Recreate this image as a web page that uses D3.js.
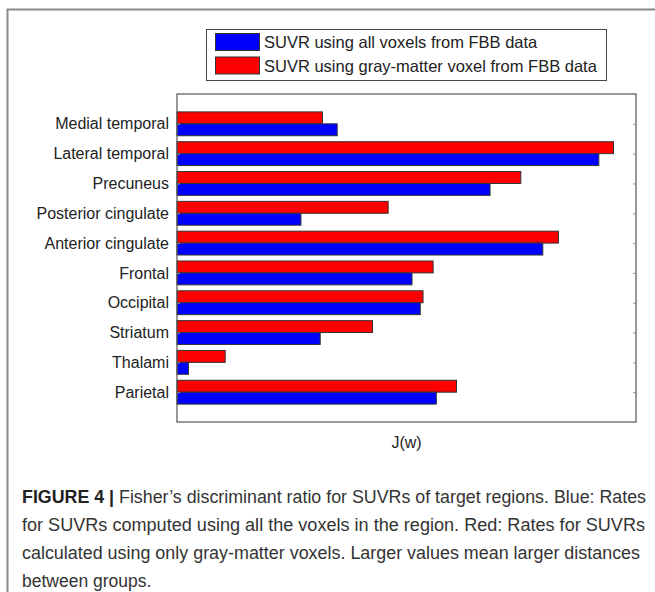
<!DOCTYPE html>
<html>
<head>
<meta charset="utf-8">
<script src="https://cdn.jsdelivr.net/npm/d3@7"></script>
<style>
  html, body { margin: 0; padding: 0; background: #fff; }
  svg { display: block; }
  text { font-family: "Liberation Sans", Arial, Helvetica, sans-serif; }
</style>
</head>
<body>
<svg id="fig" width="655" height="592"></svg>
<script>
// Brain regions, top to bottom
const regions = [
  "Medial temporal", "Lateral temporal", "Precuneus", "Posterior cingulate",
  "Anterior cingulate", "Frontal", "Occipital", "Striatum", "Thalami", "Parietal"
];
// Fisher's discriminant ratio J(w), SUVR from all voxels
const allVoxels = [0.349, 0.919, 0.682, 0.270, 0.797, 0.512, 0.530, 0.312, 0.025, 0.565];
// Fisher's discriminant ratio J(w), SUVR from gray-matter voxels only
const grayMatter = [0.317, 0.951, 0.749, 0.460, 0.831, 0.558, 0.536, 0.426, 0.105, 0.609];
const seriesNames = [
  "SUVR using all voxels from FBB data",
  "SUVR using gray-matter voxel from FBB data"
];
const seriesColors = ["#0000ff", "#ff0000"];
const xLabel = "J(w)";
const captionLines = [
  [["FIGURE 4 |", true], [" Fisher\u2019s discriminant ratio for SUVRs of target regions. Blue: Rates", false]],
  [["for SUVRs computed using all the voxels in the region. Red: Rates for SUVRs", false]],
  [["calculated using only gray-matter voxels. Larger values mean larger distances", false]],
  [["between groups.", false]]
];
// line widths of the justified caption block (last line runs free)
const captionWidths = [624, 623, 618, null];

const svg = d3.select("#fig");

// outer figure frame (continues past the right and bottom edges)
svg.append("rect")
  .attr("x", 7.5).attr("y", 9.5).attr("width", 720).attr("height", 720)
  .attr("fill", "none").attr("stroke", "#8a8a8a").attr("stroke-width", 2);

const plot = { left: 177, right: 636, top: 94, bottom: 422 };

const x = d3.scaleLinear().domain([0, 1]).range([plot.left, plot.right]);
// positions 1..10 inside a 0..11 range
const y = d3.scaleLinear().domain([0, regions.length + 1]).range([plot.top, plot.bottom]);
const step = y(1) - y(0);
const barH = step * 0.8 / 2;

const g = svg.append("g");

// bars: gray-matter (red) above, all-voxel (blue) below
const order = [1, 0]; // series index for each slot (top, bottom)
regions.forEach((r, i) => {
  const c = y(i + 1);
  order.forEach((s, slot) => {
    const v = s === 0 ? allVoxels[i] : grayMatter[i];
    g.append("rect")
      .attr("x", x(0))
      .attr("y", c - barH + slot * barH)
      .attr("width", x(v) - x(0))
      .attr("height", barH)
      .attr("fill", seriesColors[s])
      .attr("stroke", "#333")
      .attr("stroke-width", 1);
  });
});

// axes box
const yAxisL = d3.axisLeft(y).tickValues(d3.range(1, regions.length + 1))
  .tickFormat(d => regions[d - 1]).tickSizeInner(-3).tickSizeOuter(0).tickPadding(8);
const yAxisR = d3.axisRight(y).tickValues(d3.range(1, regions.length + 1))
  .tickFormat("").tickSizeInner(-3).tickSizeOuter(0);

const gl = svg.append("g").attr("transform", `translate(${plot.left},0)`).call(yAxisL);
gl.select(".domain").remove();
gl.selectAll(".tick line").attr("stroke", "#999");
gl.selectAll(".tick text")
  .attr("font-size", 16).attr("fill", "#222")
  .style("font-family", "'Liberation Sans', Arial, sans-serif");

const gr = svg.append("g").attr("transform", `translate(${plot.right},0)`).call(yAxisR);
gr.select(".domain").remove();
gr.selectAll(".tick line").attr("stroke", "#999");

svg.append("rect")
  .attr("x", plot.left).attr("y", plot.top)
  .attr("width", plot.right - plot.left).attr("height", plot.bottom - plot.top)
  .attr("fill", "none").attr("stroke", "#555").attr("stroke-width", 1.2);

// x-axis title
svg.append("text")
  .attr("x", (plot.left + plot.right) / 2).attr("y", 448)
  .attr("text-anchor", "middle").attr("font-size", 16).attr("fill", "#222")
  .text(xLabel);

// legend
const leg = svg.append("g");
leg.append("rect")
  .attr("x", 206.5).attr("y", 29.5).attr("width", 400).attr("height", 51)
  .attr("fill", "#fff").attr("stroke", "#444").attr("stroke-width", 1);
seriesNames.forEach((name, i) => {
  const yy = 33.5 + i * 23.5;
  leg.append("rect")
    .attr("x", 215.5).attr("y", yy).attr("width", 44).attr("height", 17)
    .attr("fill", seriesColors[i]).attr("stroke", "#333").attr("stroke-width", 1);
  leg.append("text")
    .attr("x", 264).attr("y", yy + 14.5)
    .attr("font-size", 16.5).attr("fill", "#222")
    .text(name);
});

// caption
captionLines.forEach((parts, i) => {
  const t = svg.append("text")
    .attr("x", 22).attr("y", 503 + i * 28)
    .attr("font-size", 17.5).attr("fill", "#333");
  if (captionWidths[i]) {
    t.attr("textLength", captionWidths[i]).attr("lengthAdjust", "spacingAndGlyphs");
  }
  parts.forEach(([s, bold]) => {
    t.append("tspan").attr("font-weight", bold ? "bold" : "normal")
      .attr("fill", bold ? "#222" : "#333").text(s);
  });
});
</script>
</body>
</html>
